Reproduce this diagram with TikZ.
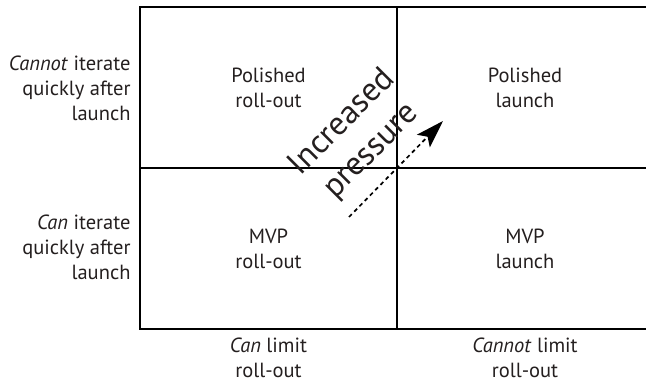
\documentclass[tikz,border=0pt]{standalone}
\usepackage{fontspec}
\setmainfont{PT Sans}
\usetikzlibrary{arrows.meta}
\definecolor{dtext}{rgb}{0.14,0.12,0.12}

\begin{document}
\begin{tikzpicture}[x=1pt, y=-1pt,
    every node/.style={font=\fontsize{20.5}{25}\selectfont, text=dtext, align=center},
    grid/.style={black, line width=1.4pt},
    push/.style={black, line width=1.7pt, dash pattern=on 4pt off 3.5pt,
        -{Stealth[length=28pt, width=18pt, inset=6pt]}}]
\useasboundingbox (0,0) rectangle (646,382);
% the four quadrants
\draw[grid] (140,7) rectangle (653,329);
\draw[grid] (397,7) -- (397,329);
\draw[grid] (140,168) -- (653,168);
\node (pro) at (268.5,88) {Polished\\roll-out};
\node (pla) at (525,88) {Polished\\launch};
\node (mro) at (268.5,248.5) {MVP\\roll-out};
\node (mla) at (525,248.5) {MVP\\launch};
% row labels
\node[anchor=east, align=right] (cannotit) at (134,88) {\textit{Cannot} iterate\\quickly after\\launch};
\node[anchor=east, align=right] (canit) at (134,247) {\textit{Can} iterate\\quickly after\\launch};
% column labels
\node (canlim) at (268.5,358) {\textit{Can} limit\\roll-out};
\node (cannotlim) at (525,358) {\textit{Cannot} limit\\roll-out};
% pressure arrow
\node[rotate=45, font=\fontsize{33}{41}\selectfont] (press) at (357,137) {Increased\\pressure};
\coordinate (from) at (349,217);
\coordinate (to) at (443,121);
\draw[push] (from) -- (to);
\end{tikzpicture}
\end{document}
